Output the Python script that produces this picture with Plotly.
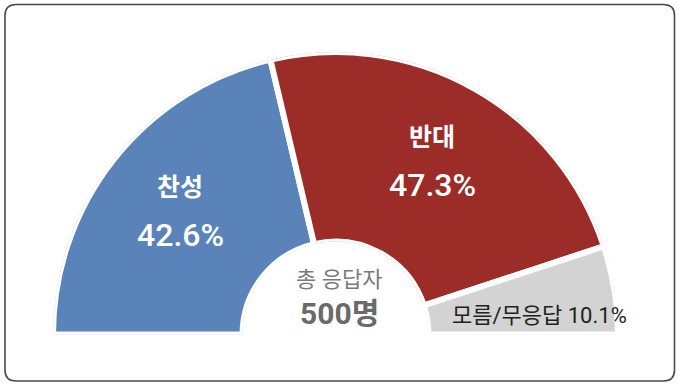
import math
import plotly.graph_objects as go

# Survey result: 찬성 / 반대 / 모름·무응답 (share of 500 respondents)
categories = ["찬성", "반대", "모름/무응답"]
shares = [42.6, 47.3, 10.1]
colors = ["#5983B9", "#9B2C28", "#D3D3D3"]
total_label = "총 응답자"
total_count = "500명"

W, H = 678, 384
FONT = "Roboto, 'Noto Sans CJK KR', sans-serif"

# half-donut geometry (pixels)
cx, cy = 335.5, 334.5
R = 282.5
hole = 0.329
GAP = 6

# angular extent of each slice, laid out from the left (180°) clockwise to 0°
widths = [s / sum(shares) * 180 for s in shares]
mids = []
start = 180.0
for w in widths:
    mids.append(start - w / 2)
    start -= w

fig = go.Figure()
fig.add_trace(go.Barpolar(
    r=[1] * len(shares),
    theta=mids,
    width=widths,
    marker=dict(color=colors, line=dict(color="white", width=GAP)),
    hoverinfo="skip",
    showlegend=False,
))

fig.update_layout(
    width=W, height=H,
    margin=dict(l=0, r=0, t=0, b=0),
    paper_bgcolor="white",
    plot_bgcolor="white",
    showlegend=False,
    polar=dict(
        domain=dict(x=[(cx - R) / W, (cx + R) / W],
                    y=[(H - cy) / H, (H - cy + R) / H]),
        sector=[0, 180],
        hole=hole,
        bgcolor="white",
        radialaxis=dict(visible=False, range=[0, 1]),
        angularaxis=dict(visible=False, direction="counterclockwise", rotation=0),
    ),
)


def to_paper(angle_deg, dist):
    x = cx + dist * math.cos(math.radians(angle_deg))
    y = cy - dist * math.sin(math.radians(angle_deg))
    return x / W, (H - y) / H


annotations = []
# white two-line labels on the two large slices
for name, val, ang in zip(categories[:2], shares[:2], mids[:2]):
    px_, py_ = to_paper(ang, 198)
    annotations.append(dict(x=px_, y=py_, xref="paper", yref="paper", text=name,
                            showarrow=False, xanchor="center", yanchor="middle", yshift=24,
                            font=dict(family=FONT, size=25, color="white", weight="bold")))
    annotations.append(dict(x=px_, y=py_, xref="paper", yref="paper", text=f"{val}%",
                            showarrow=False, xanchor="center", yanchor="middle", yshift=-23,
                            font=dict(family=FONT, size=32, color="white", weight=500)))

# single-line label on the small slice
annotations.append(dict(x=539 / W, y=(H - 315) / H, xref="paper", yref="paper",
                        text=f"{categories[2]} {shares[2]}%", showarrow=False,
                        xanchor="center", yanchor="middle",
                        font=dict(family=FONT, size=22, color="#222222")))

# total respondents in the hole
annotations.append(dict(x=339 / W, y=(H - 279) / H, xref="paper", yref="paper",
                        text=total_label, showarrow=False, xanchor="center", yanchor="middle",
                        font=dict(family=FONT, size=22, color="#7a7a7a")))
annotations.append(dict(x=339 / W, y=(H - 313) / H, xref="paper", yref="paper",
                        text=total_count, showarrow=False, xanchor="center", yanchor="middle",
                        font=dict(family=FONT, size=30, color="#6a6a6a", weight="bold")))
fig.update_layout(annotations=annotations)

# rounded frame around the chart
x0, y0, x1, y1, rad = 5, 4.5, 674.5, 381, 11


def px(x):
    return x / W


def py(y):
    return (H - y) / H


path = (
    f"M {px(x0 + rad)} {py(y0)} L {px(x1 - rad)} {py(y0)} "
    f"Q {px(x1)} {py(y0)} {px(x1)} {py(y0 + rad)} "
    f"L {px(x1)} {py(y1 - rad)} Q {px(x1)} {py(y1)} {px(x1 - rad)} {py(y1)} "
    f"L {px(x0 + rad)} {py(y1)} Q {px(x0)} {py(y1)} {px(x0)} {py(y1 - rad)} "
    f"L {px(x0)} {py(y0 + rad)} Q {px(x0)} {py(y0)} {px(x0 + rad)} {py(y0)} Z"
)
fig.add_shape(type="path", path=path, xref="paper", yref="paper",
              line=dict(color="#4a4a4a", width=1.6), fillcolor="rgba(0,0,0,0)", layer="above")

fig.write_html("out.html")
